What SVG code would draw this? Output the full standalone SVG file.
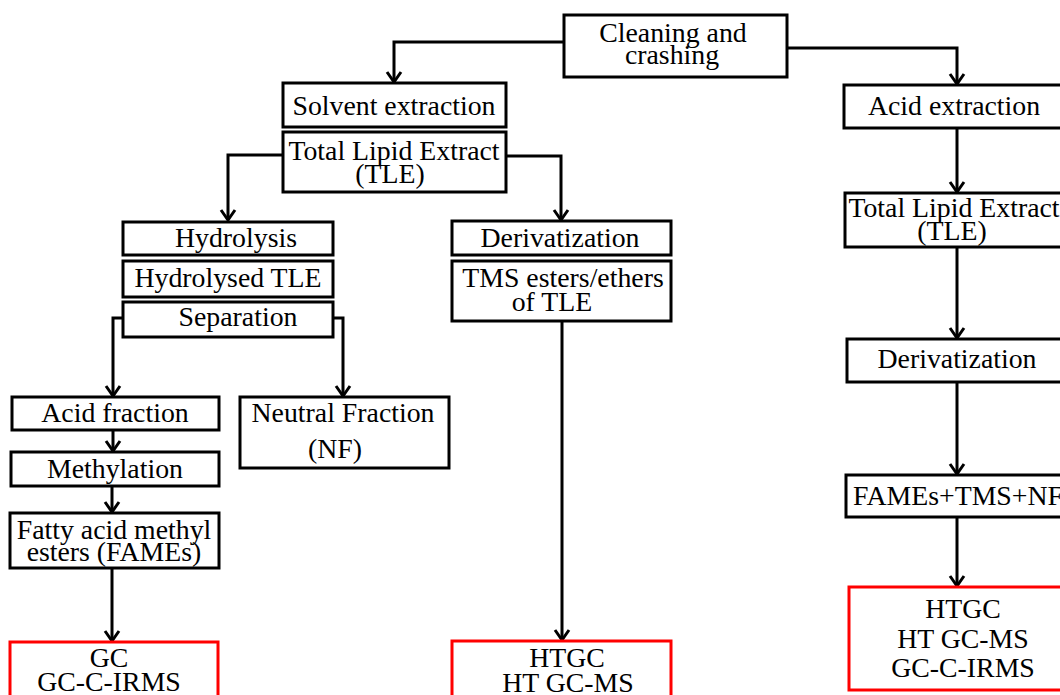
<svg xmlns="http://www.w3.org/2000/svg" width="1060" height="695" viewBox="0 0 1060 695">
<style>
.b{fill:#fff;stroke:#000;stroke-width:3}
.r{fill:#fff;stroke:#ff0000;stroke-width:3}
text{font-family:"Liberation Serif","Times New Roman",serif;font-size:27.8px;fill:#000;text-anchor:middle}
.c{fill:none;stroke:#000;stroke-width:3;marker-end:url(#ah)}
</style>
<defs>
<marker id="ah" markerUnits="userSpaceOnUse" viewBox="-12 -9 14 18" refX="0" refY="0" markerWidth="14" markerHeight="18" orient="auto">
<path d="M-10,-7 L0,0 L-10,7" fill="none" stroke="#000" stroke-width="3"/>
</marker>
</defs>
<rect width="1060" height="695" fill="#fff"/>
<g id="connectors">
<path class="c" d="M564,42 H394 V82"/>
<path class="c" d="M787,48 H957 V84"/>
<path class="c" d="M283,155 H228 V220"/>
<path class="c" d="M506,156 H561 V220"/>
<path class="c" d="M123,318 H113 V396"/>
<path class="c" d="M333,318 H343 V396"/>
<path class="c" d="M113,430 V451"/>
<path class="c" d="M112,486 V512"/>
<path class="c" d="M112,568 V641"/>
<path class="c" d="M562,321 V640"/>
<path class="c" d="M957,128 V192"/>
<path class="c" d="M957,247 V338"/>
<path class="c" d="M957,382 V474"/>
<path class="c" d="M957,517 V586"/>
</g>
<g id="cleaning"><rect class="b" x="564" y="15" width="223" height="62"/><text x="673" y="42">Cleaning and</text><text x="672" y="64">crashing</text></g>
<g id="solvent"><rect class="b" x="283" y="83" width="223" height="44"/><text x="394" y="115">Solvent extraction</text></g>
<g id="tle1"><rect class="b" x="283" y="132" width="223" height="60"/><text x="394" y="160">Total Lipid Extract</text><text x="390" y="183">(TLE)</text></g>
<g id="hydrolysis"><rect class="b" x="123" y="222" width="210" height="33"/><text x="236" y="247">Hydrolysis</text></g>
<g id="hydrolysed"><rect class="b" x="123" y="261" width="210" height="36"/><text x="228" y="287">Hydrolysed TLE</text></g>
<g id="separation"><rect class="b" x="123" y="302" width="210" height="35"/><text x="238" y="326">Separation</text></g>
<g id="acidfraction"><rect class="b" x="12" y="397" width="207" height="33"/><text x="115" y="422">Acid fraction</text></g>
<g id="neutral"><rect class="b" x="240" y="397" width="209" height="71"/><text x="343" y="422">Neutral Fraction</text><text x="335" y="458">(NF)</text></g>
<g id="methylation"><rect class="b" x="11" y="452" width="208" height="34"/><text x="115" y="478">Methylation</text></g>
<g id="fames"><rect class="b" x="10" y="513" width="209" height="55"/><text x="114" y="539">Fatty acid methyl</text><text x="114" y="561">esters (FAMEs)</text></g>
<g id="gc"><rect class="r" x="10" y="642" width="208" height="70"/><text x="109" y="667">GC</text><text x="109" y="691">GC-C-IRMS</text></g>
<g id="deriv1"><rect class="b" x="452" y="221" width="219" height="34"/><text x="560" y="247">Derivatization</text></g>
<g id="tms"><rect class="b" x="452" y="261" width="219" height="60"/><text x="563" y="287">TMS esters/ethers</text><text x="552" y="311">of TLE</text></g>
<g id="htgc1"><rect class="r" x="452" y="641" width="219" height="70"/><text x="567" y="667">HTGC</text><text x="568" y="692">HT GC-MS</text></g>
<g id="acidext"><rect class="b" x="844" y="85" width="226" height="43"/><text x="954" y="115">Acid extraction</text></g>
<g id="tle2"><rect class="b" x="845" y="193" width="225" height="54"/><text x="954" y="217">Total Lipid Extract</text><text x="952" y="240">(TLE)</text></g>
<g id="deriv2"><rect class="b" x="847" y="339" width="223" height="43"/><text x="957" y="368">Derivatization</text></g>
<g id="fames2"><rect class="b" x="846" y="475" width="224" height="42"/><text x="853" y="505" style="text-anchor:start">FAMEs+TMS+NF</text></g>
<g id="htgc2"><rect class="r" x="849" y="587" width="221" height="103"/><text x="963" y="618">HTGC</text><text x="963" y="648">HT GC-MS</text><text x="963" y="677">GC-C-IRMS</text></g>
</svg>
